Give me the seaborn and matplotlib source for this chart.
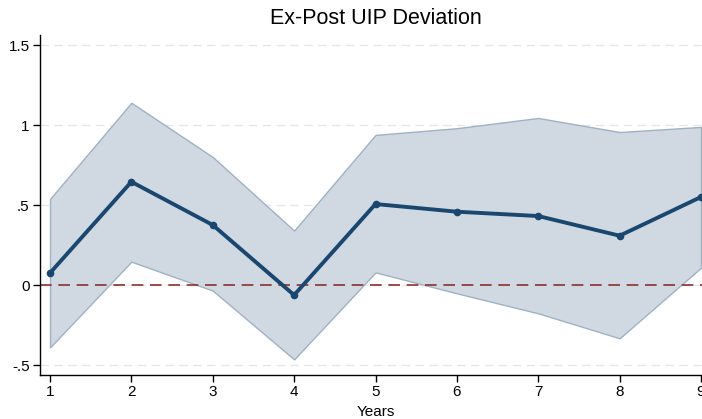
import matplotlib
matplotlib.use("Agg")
import matplotlib.pyplot as plt
import seaborn as sns
import pandas as pd

years = [1, 2, 3, 4, 5, 6, 7, 8, 9]
estimate = [0.075, 0.645, 0.375, -0.063, 0.506, 0.458, 0.431, 0.308, 0.55]
upper = [0.538, 1.139, 0.80, 0.34, 0.938, 0.98, 1.044, 0.956, 0.988]
lower = [-0.39, 0.146, -0.035, -0.465, 0.079, -0.052, -0.177, -0.333, 0.108]
ytick_vals = [-0.5, 0, 0.5, 1, 1.5]
ytick_labels = ["-.5", "0", ".5", "1", "1.5"]
title = "Ex-Post UIP Deviation"
xlabel = "Years"

df = pd.DataFrame({"Years": years, "est": estimate, "lo": lower, "hi": upper})

sns.set_style("white")
plt.rcParams["font.family"] = ["Liberation Sans", "DejaVu Sans"]
plt.rcParams["text.color"] = "black"
plt.rcParams["xtick.color"] = "black"
plt.rcParams["ytick.color"] = "black"
plt.rcParams["axes.labelcolor"] = "black"

W, H = 702, 419
fig = plt.figure(figsize=(W / 100, H / 100), dpi=100)
left, right, top, bottom = 40, 711, 35, 375
ax = fig.add_axes([left / W, (H - bottom) / H, (right - left) / W, (bottom - top) / H])

for v in ytick_vals:
    ax.axhline(v, color="#e6e6e6", lw=1.0, ls=(0, (6, 4)), zorder=0)

ax.fill_between(df["Years"], df["lo"], df["hi"], facecolor="#d0d9e2",
                edgecolor="#9fb2c4", lw=1.0, zorder=1)
ax.axhline(0, color="#8b2f2f", lw=1.2, ls=(0, (7, 4)), zorder=2)
sns.lineplot(data=df, x="Years", y="est", ax=ax, color="#1a476f", lw=2.8,
             marker="o", markersize=5.5, markeredgewidth=0, zorder=3)

ax.set_xlim(0.877, 9.123)
ax.set_ylim(-0.5625, 1.5625)
ax.set_xticks(years)
ax.set_xticklabels([str(y) for y in years], fontsize=11)
ax.set_yticks(ytick_vals)
ax.set_yticklabels(ytick_labels, fontsize=11)
ax.tick_params(axis="both", direction="out", length=5, width=1, color="black",
               labelcolor="black", left=True, bottom=True, pad=2.5)
for s in ["top", "right"]:
    ax.spines[s].set_visible(False)
for s in ["left", "bottom"]:
    ax.spines[s].set_color("black")
    ax.spines[s].set_linewidth(1.0)

ax.set_xlabel(xlabel, fontsize=11, labelpad=4, color="black")
ax.set_ylabel("")
fig.text((left + right) / 2 / W, 1 - 19 / H, title, ha="center", va="center",
         fontsize=15.5, color="black")

fig.savefig("out.png", dpi=100)
